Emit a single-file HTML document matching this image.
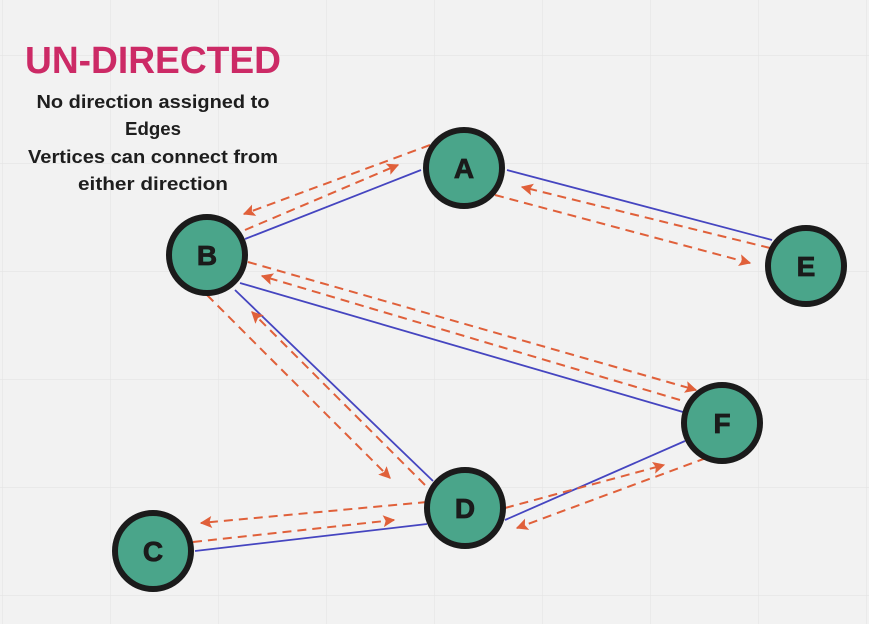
<!DOCTYPE html>
<html><head><meta charset="utf-8"><style>
html,body{margin:0;padding:0;background:#f2f2f2;}
svg{display:block}
</style></head><body>
<svg width="869" height="624" viewBox="0 0 869 624" xmlns="http://www.w3.org/2000/svg">
<defs>
<pattern id="g" x="2" y="55" width="108" height="108" patternUnits="userSpaceOnUse">
<path d="M0 0V108M0 0H108" stroke="#e4e4e4" stroke-width="1.2" fill="none"/>
</pattern>
<marker id="ah" viewBox="0 0 10 10" refX="9" refY="5" markerWidth="16" markerHeight="12" orient="auto" markerUnits="userSpaceOnUse">
<path d="M0 0L10 5L0 10L2 5z" fill="#e0603a"/>
</marker>
</defs>
<rect width="869" height="624" fill="#f2f2f2"/>
<rect width="869" height="624" fill="url(#g)"/>
<g font-family="'Liberation Sans',sans-serif" text-anchor="middle" font-weight="bold">
<text x="153" y="73" font-size="38" fill="#cc2a66" textLength="256" lengthAdjust="spacingAndGlyphs">UN-DIRECTED</text>
<text x="153" y="108" font-size="18" fill="#1e1e1e" textLength="233" lengthAdjust="spacingAndGlyphs">No direction assigned to</text>
<text x="153" y="135" font-size="18" fill="#1e1e1e" textLength="56" lengthAdjust="spacingAndGlyphs">Edges</text>
<text x="153" y="163" font-size="18" fill="#1e1e1e" textLength="250" lengthAdjust="spacingAndGlyphs">Vertices can connect from</text>
<text x="153" y="190" font-size="18" fill="#1e1e1e" textLength="150" lengthAdjust="spacingAndGlyphs">either direction</text>
</g>
<g stroke="#4545c0" stroke-width="1.8">
<line x1="421" y1="170" x2="245" y2="239"/>
<line x1="507" y1="170" x2="772" y2="240"/>
<line x1="240" y1="283" x2="683" y2="412"/>
<line x1="235" y1="290" x2="433" y2="481"/>
<line x1="427" y1="524" x2="195" y2="551"/>
<line x1="505" y1="520" x2="685" y2="441"/>
</g>
<g stroke="#e0603a" stroke-width="2" stroke-dasharray="9 6" fill="none" marker-end="url(#ah)">
<line x1="245" y1="230" x2="398" y2="165"/>
<line x1="430" y1="145" x2="244" y2="214"/>
<line x1="495" y1="195" x2="750" y2="263"/>
<line x1="770" y1="248" x2="522" y2="187"/>
<line x1="248" y1="262" x2="696" y2="390"/>
<line x1="680" y1="400" x2="262" y2="276"/>
<line x1="207" y1="295" x2="390" y2="478"/>
<line x1="425" y1="485" x2="252" y2="312"/>
<line x1="427" y1="502" x2="201" y2="523"/>
<line x1="193" y1="542" x2="394" y2="520"/>
<line x1="505" y1="508" x2="664" y2="465"/>
<line x1="706" y1="458" x2="517" y2="528"/>
</g>
<g fill="#4aa58a" stroke="#1b1b1b" stroke-width="6">
<circle cx="464" cy="168" r="38"/>
<circle cx="207" cy="255" r="38"/>
<circle cx="806" cy="266" r="38"/>
<circle cx="722" cy="423" r="38"/>
<circle cx="465" cy="508" r="38"/>
<circle cx="153" cy="551" r="38"/>
</g>
<g font-family="'Liberation Sans',sans-serif" font-weight="bold" font-size="28" fill="#1b1b1b" stroke="#1b1b1b" stroke-width="0.8" text-anchor="middle">
<text x="464" y="178">A</text>
<text x="207" y="265">B</text>
<text x="806" y="276">E</text>
<text x="722" y="433">F</text>
<text x="465" y="518">D</text>
<text x="153" y="561">C</text>
</g>
</svg>
</body></html>
